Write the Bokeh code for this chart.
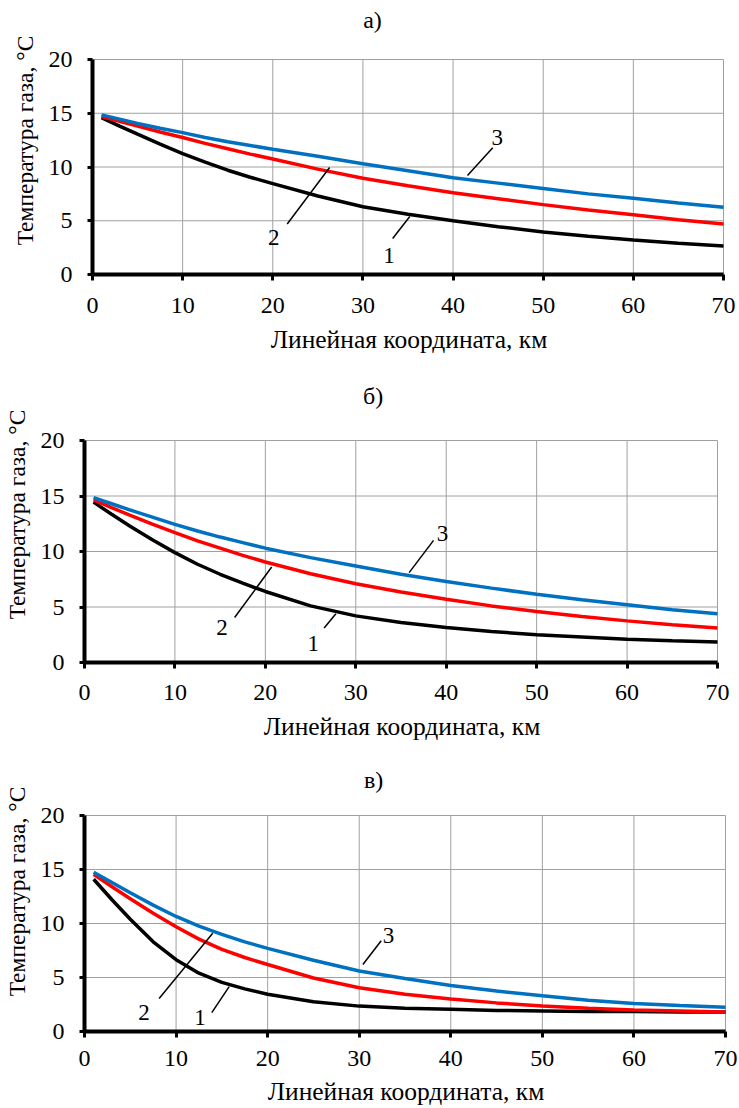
from bokeh.plotting import figure
from bokeh.layouts import column
from bokeh.models import Range1d, FixedTicker
from bokeh.embed import file_html
from bokeh.resources import INLINE
from bokeh.core.properties import value

# ---------------- data ----------------
x_km = [1, 3, 5, 7.5, 10, 12.5, 15, 17.5, 20, 25, 30, 35, 40, 45, 50, 55, 60, 65, 70]
x_ticks = [0, 10, 20, 30, 40, 50, 60, 70]
y_ticks = [0, 5, 10, 15, 20]
X_MIN, X_MAX = 0, 70
Y_MIN, Y_MAX = 0, 20

# panel а)
a_curve1 = [14.6, 13.8, 13.05, 12.12, 11.25, 10.45, 9.7, 9.05, 8.45, 7.3, 6.3, 5.6, 5.0, 4.45, 3.95, 3.55, 3.2, 2.9, 2.65]
a_curve2 = [14.7, 14.25, 13.8, 13.25, 12.75, 12.2, 11.7, 11.2, 10.75, 9.8, 8.95, 8.25, 7.6, 7.05, 6.5, 6.0, 5.55, 5.1, 4.7]
a_curve3 = [14.85, 14.45, 14.05, 13.6, 13.2, 12.75, 12.35, 12.0, 11.65, 11.0, 10.3, 9.65, 9.0, 8.5, 8.0, 7.5, 7.1, 6.65, 6.25]

# panel б)
b_curve1 = [14.45, 13.35, 12.3, 11.05, 9.9, 8.85, 7.95, 7.15, 6.4, 5.1, 4.2, 3.6, 3.15, 2.8, 2.5, 2.3, 2.1, 1.95, 1.85]
b_curve2 = [14.65, 13.95, 13.28, 12.47, 11.7, 10.95, 10.3, 9.65, 9.05, 8.0, 7.1, 6.35, 5.7, 5.1, 4.6, 4.15, 3.75, 3.4, 3.1]
b_curve3 = [14.85, 14.3, 13.75, 13.1, 12.45, 11.85, 11.3, 10.8, 10.3, 9.45, 8.7, 7.95, 7.3, 6.7, 6.15, 5.65, 5.2, 4.75, 4.4]

# panel в)
c_curve1 = [14.1, 12.2, 10.4, 8.3, 6.65, 5.4, 4.55, 3.95, 3.45, 2.75, 2.35, 2.15, 2.05, 1.95, 1.9, 1.85, 1.85, 1.8, 1.8]
c_curve2 = [14.55, 13.4, 12.3, 10.95, 9.7, 8.55, 7.6, 6.85, 6.2, 4.95, 4.05, 3.45, 3.0, 2.65, 2.35, 2.15, 2.0, 1.9, 1.8]
c_curve3 = [14.75, 13.8, 12.85, 11.7, 10.65, 9.75, 9.0, 8.3, 7.7, 6.6, 5.6, 4.9, 4.25, 3.75, 3.3, 2.9, 2.6, 2.4, 2.25]

curve_names = ["1", "2", "3"]

# callout labels (x, y) and leader segments (x0, y0, x1, y1), in data units
a_lab_x = [32.9, 20.1, 44.9]
a_lab_y = [1.8, 3.4, 12.7]
a_lead = [(33.3, 3.35, 35.2, 5.4), (21.6, 4.7, 26.3, 9.95), (41.6, 9.2, 44.4, 11.8)]

b_lab_x = [25.3, 15.2, 39.6]
b_lab_y = [1.7, 3.15, 11.6]
b_lead = [(26.5, 3.1, 27.8, 4.4), (16.6, 4.05, 20.7, 8.6), (35.9, 8.1, 38.6, 11.0)]

c_lab_x = [12.6, 6.5, 33.2]
c_lab_y = [1.3, 1.75, 8.9]
c_lead = [(13.9, 1.75, 15.8, 4.15), (8.15, 3.05, 14.0, 9.1), (30.4, 6.2, 32.4, 8.4)]

titles = ["а)", "б)", "в)"]
y_title = "Температура газа, °C"
x_title = "Линейная координата, км"

# ---------------- styling / layout ----------------
FONT = "Liberation Serif"
COLORS = ["#000000", "#FF0000", "#0070C0"]
GRID = "#A0A0A0"
PAGE_W = 739
TOP_PAD = 6       # frame starts this far below the figure top (panel letter lives inside the frame)
TITLE_X_PX = 372  # horizontal centre of the panel letters on the page


def panel(title, curves, lab_x, lab_y, leads, height, y20_px, y0_px, left_px, x70_px,
          title_y_px, tick_std, lab_std):
    # extend the y range above 20 so the panel letter fits in the frame
    per_px_y = (Y_MAX - Y_MIN) / (y0_px - y20_px)
    y_end = Y_MAX + (y20_px - TOP_PAD) * per_px_y
    per_px_x = (X_MAX - X_MIN) / (x70_px - left_px)
    x_end = X_MAX + 2 * per_px_x

    p = figure(width=PAGE_W, height=height, x_range=Range1d(X_MIN, x_end),
               y_range=Range1d(Y_MIN, y_end),
               output_backend="svg", toolbar_location=None, frame_align=False,
               min_border_top=TOP_PAD, min_border_bottom=height - y0_px,
               min_border_left=left_px, min_border_right=PAGE_W - x70_px - 2)

    p.outline_line_color = None
    p.xgrid.grid_line_color = None
    p.ygrid.grid_line_color = None
    # grid limited to the 0..70 x 0..20 box
    p.segment(x0=x_ticks, y0=[Y_MIN] * len(x_ticks), x1=x_ticks, y1=[Y_MAX] * len(x_ticks),
              line_color=GRID, line_width=1, level="underlay")
    p.segment(x0=[X_MIN] * len(y_ticks), y0=y_ticks, x1=[X_MAX] * len(y_ticks), y1=y_ticks,
              line_color=GRID, line_width=1, level="underlay")

    p.xaxis.ticker = FixedTicker(ticks=x_ticks)
    p.yaxis.ticker = FixedTicker(ticks=y_ticks)
    p.xaxis.bounds = (X_MIN, X_MAX)
    p.yaxis.bounds = (Y_MIN, Y_MAX)
    for ax in (p.xaxis[0], p.yaxis[0]):
        ax.axis_line_width = 4
        ax.axis_line_color = "#000000"
        ax.major_tick_line_width = 3
        ax.major_tick_line_color = "#000000"
        ax.major_tick_in = 0
        ax.minor_tick_line_color = None
        ax.major_label_text_font = FONT
        ax.major_label_text_font_size = "24px"
        ax.major_label_text_color = "#000000"
        ax.axis_label_text_font = FONT
        ax.axis_label_text_font_style = "normal"
        ax.axis_label_text_color = "#000000"
    p.xaxis.axis_label_text_font_size = "25.5px"
    p.yaxis.axis_label_text_font_size = "23.5px"
    p.xaxis.major_tick_out = 6
    p.yaxis.major_tick_out = 5
    p.xaxis.major_label_standoff = tick_std
    p.yaxis.major_label_standoff = 15
    p.xaxis.axis_label = x_title
    p.yaxis.axis_label = y_title
    p.xaxis.axis_label_standoff = lab_std
    p.yaxis.axis_label_standoff = 8

    for ys, col in zip(curves, COLORS):
        p.line(x_km, ys, line_color=col, line_width=3.5)

    p.segment(x0=[l[0] for l in leads], y0=[l[1] for l in leads],
              x1=[l[2] for l in leads], y1=[l[3] for l in leads],
              line_color="#000000", line_width=1.5)
    p.text(x=lab_x, y=lab_y, text=curve_names, text_font=value(FONT),
           text_font_size="23px", text_align="center", text_baseline="middle",
           text_color="#000000")

    # panel letter
    tx = X_MIN + (TITLE_X_PX - left_px) * per_px_x
    ty = Y_MAX + (y20_px - title_y_px) * per_px_y
    p.text(x=[tx], y=[ty], text=[title], text_font=value(FONT),
           text_font_size="24px", text_align="center", text_baseline="middle",
           text_color="#000000")
    return p


pa = panel(titles[0], [a_curve1, a_curve2, a_curve3], a_lab_x, a_lab_y, a_lead,
           height=360, y20_px=59, y0_px=274, left_px=92, x70_px=723,
           title_y_px=19, tick_std=17, lab_std=9)
pb = panel(titles[1], [b_curve1, b_curve2, b_curve3], b_lab_x, b_lab_y, b_lead,
           height=385, y20_px=80, y0_px=302, left_px=83, x70_px=717,
           title_y_px=35, tick_std=16, lab_std=9)
pc = panel(titles[2], [c_curve1, c_curve2, c_curve3], c_lab_x, c_lab_y, c_lead,
           height=363, y20_px=70, y0_px=286, left_px=82, x70_px=725,
           title_y_px=34, tick_std=13, lab_std=8)

layout = column(pa, pb, pc, spacing=0)
open("out.html", "w").write(file_html(layout, INLINE))
